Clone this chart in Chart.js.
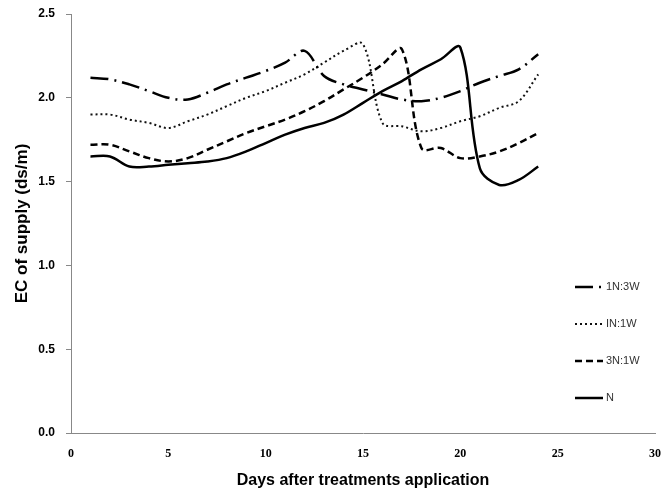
<!DOCTYPE html>
<html>
<head>
<meta charset="utf-8">
<script src="https://cdn.jsdelivr.net/npm/chart.js@4"></script>
<style>
  html, body { margin: 0; padding: 0; background: #fff; }
  #wrap { width: 669px; height: 495px; }
</style>
</head>
<body>
<div id="wrap"><canvas id="ec-chart"></canvas></div>
<script>
// values, one per day
const days = [1, 2, 3, 4, 5, 6, 7, 8, 9, 10, 11, 12, 13, 14, 15, 16, 17, 18, 19, 20, 21, 22, 23, 24];
const ec1N3W = [2.12, 2.11, 2.08, 2.04, 2.00, 1.99, 2.03, 2.08, 2.12, 2.16, 2.21, 2.28, 2.13, 2.08, 2.05, 2.02, 1.99, 1.98, 2.00, 2.04, 2.09, 2.13, 2.17, 2.26];
const ecIN1W = [1.90, 1.90, 1.87, 1.85, 1.82, 1.86, 1.90, 1.95, 2.00, 2.04, 2.09, 2.14, 2.21, 2.28, 2.32, 1.85, 1.83, 1.80, 1.82, 1.86, 1.89, 1.94, 1.98, 2.14];
const ec3N1W = [1.72, 1.72, 1.68, 1.64, 1.62, 1.64, 1.69, 1.74, 1.79, 1.83, 1.87, 1.92, 1.98, 2.05, 2.12, 2.20, 2.29, 1.70, 1.70, 1.64, 1.65, 1.68, 1.73, 1.79];
const ecN    = [1.65, 1.65, 1.59, 1.59, 1.60, 1.61, 1.62, 1.64, 1.68, 1.73, 1.78, 1.82, 1.85, 1.90, 1.97, 2.04, 2.10, 2.17, 2.23, 2.30, 1.58, 1.48, 1.51, 1.59];
const seriesNames = ['1N:3W', 'IN:1W', '3N:1W', 'N'];
const xTicks = [0, 5, 10, 15, 20, 25, 30];

function toPoints(vals) {
    return days.map((d, i) => ({ x: d, y: vals[i] }));
}

// legend drawn inside the plot, lower right, like the original
const sideLegend = {
    id: 'sideLegend',
    afterDraw(chart) {
        const ctx = chart.ctx;
        const area = chart.chartArea;
        const x0 = area.right - 80;
        let y = area.top + 273;
        ctx.save();
        chart.data.datasets.forEach(ds => {
            ctx.beginPath();
            ctx.strokeStyle = ds.borderColor;
            ctx.lineWidth = ds.borderWidth;
            ctx.setLineDash(ds.borderDash || []);
            ctx.moveTo(x0, y);
            ctx.lineTo(x0 + 28, y);
            ctx.stroke();
            ctx.setLineDash([]);
            ctx.fillStyle = '#333';
            ctx.font = '11px "Liberation Sans", Arial, sans-serif';
            ctx.textBaseline = 'middle';
            ctx.fillText(ds.label, x0 + 31, y);
            y += 37;
        });
        ctx.restore();
    }
};

new Chart(document.getElementById('ec-chart'), {
    type: 'line',
    data: {
        datasets: [
            { label: seriesNames[0], data: toPoints(ec1N3W), borderColor: '#000', borderWidth: 2.5, borderDash: [18, 6, 2, 6] },
            { label: seriesNames[1], data: toPoints(ecIN1W), borderColor: '#111', borderWidth: 2, borderDash: [2, 3] },
            { label: seriesNames[2], data: toPoints(ec3N1W), borderColor: '#000', borderWidth: 2.5, borderDash: [7, 4] },
            { label: seriesNames[3], data: toPoints(ecN), borderColor: '#000', borderWidth: 2.5 }
        ]
    },
    options: {
        responsive: true,
        maintainAspectRatio: false,
        animation: false,
        layout: { padding: { left: 0, right: 14, top: 14, bottom: 0 } },
        elements: {
            line: { tension: 0.35, fill: false },
            point: { radius: 0 }
        },
        plugins: {
            legend: { display: false },
            tooltip: { enabled: false }
        },
        scales: {
            x: {
                type: 'linear',
                min: 0,
                max: 30,
                afterBuildTicks: scale => { scale.ticks = xTicks.map(v => ({ value: v })); },
                afterFit: scale => {
                    scale.height = 62;
                    scale.paddingLeft = 0;
                    scale.paddingRight = 0;
                },
                grid: { display: true, drawOnChartArea: false, drawTicks: false },
                border: { display: true, color: '#888', width: 1 },
                ticks: {
                    padding: 14,
                    color: '#000',
                    font: { family: '"Liberation Serif", "Times New Roman", serif', weight: 'bold', size: 12 }
                },
                title: {
                    display: true,
                    text: 'Days after treatments application',
                    color: '#000',
                    padding: { top: 0, bottom: 5 },
                    font: { family: '"Liberation Sans", Arial, sans-serif', weight: 'bold', size: 16 }
                }
            },
            y: {
                min: 0,
                max: 2.5,
                afterFit: scale => {
                    scale.width = 71;
                    scale.paddingTop = 0;
                    scale.paddingBottom = 0;
                },
                grid: { display: true, drawOnChartArea: false, drawTicks: true, tickLength: 5, color: '#888' },
                border: { display: true, color: '#888', width: 1 },
                ticks: {
                    stepSize: 0.5,
                    padding: 11,
                    color: '#000',
                    callback: v => v.toFixed(1),
                    font: { family: '"Liberation Sans", Arial, sans-serif', weight: 'bold', size: 12 }
                },
                title: {
                    display: true,
                    text: 'EC of supply (ds/m)',
                    color: '#000',
                    padding: { top: 12, bottom: 0 },
                    font: { family: '"Liberation Sans", Arial, sans-serif', weight: 'bold', size: 17 }
                }
            }
        }
    },
    plugins: [sideLegend]
});
</script>
</body>
</html>
